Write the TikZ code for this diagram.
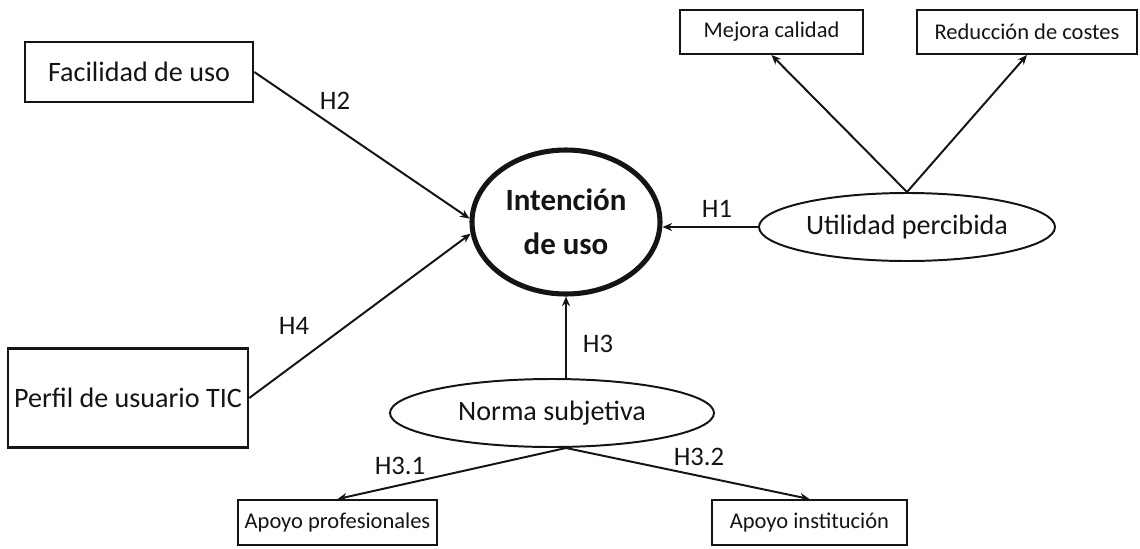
\documentclass[tikz,border=0pt]{standalone}
\usepackage{fontspec}
\setmainfont{Carlito}
\usetikzlibrary{arrows.meta,positioning,shapes.geometric}
\definecolor{ink}{RGB}{20,20,20}
\tikzset{
  >={Stealth[length=2.4mm,width=2mm]},
  box/.style={draw=ink,line width=1.8pt,inner sep=0pt,text=ink,
    font=\fontsize{20}{24}\selectfont},
  small box/.style={draw=ink,line width=1.4pt,inner sep=0pt,text=ink,
    font=\fontsize{16}{19}\selectfont},
  construct/.style={ellipse,draw=ink,line width=1.4pt,inner sep=0pt,text=ink,
    font=\fontsize{20}{24}\selectfont},
  core/.style={ellipse,draw=ink,line width=3.6pt,inner sep=0pt,text=ink,
    align=center,font=\fontsize{22}{31}\selectfont\bfseries},
  flow/.style={->,line width=1.4pt,draw=ink},
  hyp/.style={text=ink,inner sep=0pt,font=\fontsize{19}{22}\selectfont},
}
\begin{document}
\begin{tikzpicture}[x=0.25mm,y=-0.25mm]
  \useasboundingbox (0,0) rectangle (1140,548);
  % constructs
  \node[core,minimum width=47mm,minimum height=36mm] (intent) at (566,222) {Intención\\de uso};
  \node[construct,minimum width=74mm,minimum height=17mm] (util) at (907,227) {Utilidad percibida};
  \node[construct,minimum width=81mm,minimum height=17mm] (norma) at (552,413) {Norma subjetiva};
  % antecedents
  \node[box,minimum width=57mm,minimum height=15mm] (fac) at (139,72) {Facilidad de uso};
  \node[box,minimum width=60mm,minimum height=24.75mm] (perf) at (128,398) {Perfil de usuario TIC};
  % indicators
  \node[small box,minimum width=45.75mm,minimum height=11mm] (mej) at (771.5,32) {Mejora calidad};
  \node[small box,minimum width=55mm,minimum height=11mm] (red) at (1027,32) {Reducción de costes};
  \node[small box,minimum width=49.75mm,minimum height=11.25mm] (prof) at (337.5,522.5) {Apoyo profesionales};
  \node[small box,minimum width=48.75mm,minimum height=11.25mm] (inst) at (809.5,522.5) {Apoyo institución};
  % hypotheses
  \coordinate (nsplit) at (norma.south -| intent);
  \draw[flow] (fac.east) -- (intent.178);
  \draw[flow] (perf.east) -- (intent.187);
  \draw[flow] (util.west) -- (util.west -| intent.east);
  \draw[flow] (norma.north -| intent) -- (intent.south);
  \draw[flow] (nsplit) -- (prof.north);
  \draw[flow] (nsplit) -- (inst.north);
  \draw[flow] (util.north) -- (mej.south);
  \draw[flow] (util.north) -- (red.south);
  \node[hyp] (h2) at (335,101) {H2};
  \node[hyp] (h4) at (294,326) {H4};
  \node[hyp] (h1) at (717,209) {H1};
  \node[hyp] (h3) at (598,344) {H3};
  \node[hyp] (h31) at (400,466) {H3.1};
  \node[hyp] (h32) at (699,457) {H3.2};
\end{tikzpicture}
\end{document}
